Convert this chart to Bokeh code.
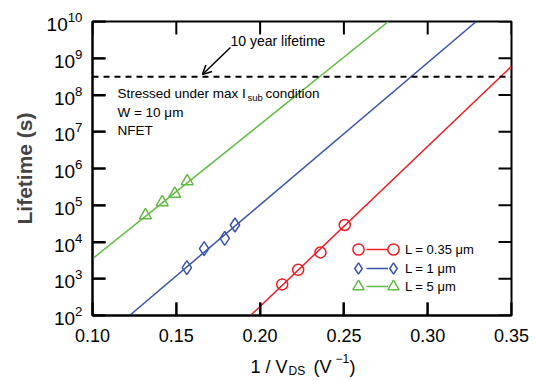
import math
from bokeh.plotting import figure
from bokeh.layouts import column
from bokeh.models import (Range1d, FixedTicker, NumeralTickFormatter, ColumnDataSource,
                          Span, Arrow, OpenHead, Label, Legend, LegendItem)
from bokeh.embed import file_html
from bokeh.resources import INLINE

FONT = "Liberation Sans"

# ---- data ----
x_035 = [0.2132, 0.2227, 0.2360, 0.2505]
t_035 = [7.0e2, 1.75e3, 5.2e3, 2.9e4]
x_1 = [0.1563, 0.1666, 0.1789, 0.1850]
t_1 = [2.0e3, 6.6e3, 1.25e4, 2.9e4]
x_5 = [0.1316, 0.1416, 0.1491, 0.1565]
t_5 = [5.3e4, 1.21e5, 2.05e5, 4.5e5]

fit_x_035 = [0.1943, 0.35]
fit_t_035 = [1e2, 6.0e8]
fit_x_1 = [0.1221, 0.329]
fit_t_1 = [1e2, 1e10]
fit_x_5 = [0.10, 0.2766]
fit_t_5 = [3.5e3, 1e10]

series_labels = ["L = 0.35 μm", "L = 1 μm", "L = 5 μm"]
x_ticks = [0.10, 0.15, 0.20, 0.25, 0.30, 0.35]
y_ticks = [1e2, 1e3, 1e4, 1e5, 1e6, 1e7, 1e8, 1e9, 1e10]
ten_year_s = 3.15e8

RED, BLUE, GREEN = "#ee1c25", "#3a55a8", "#63bb45"

FRAME_W, FRAME_H, TICK_LEN = 419, 294, 13

xr = Range1d(0.10, 0.35)
yr = Range1d(1e2, 1e10)
p = figure(width=529, height=352, y_axis_type="log", x_range=xr, y_range=yr,
           output_backend="svg", toolbar_location=None,
           min_border_left=92, min_border_right=18, min_border_top=21, min_border_bottom=37)
p.xgrid.grid_line_color = None
p.ygrid.grid_line_color = None
p.outline_line_color = "black"
p.outline_line_width = 2
p.background_fill_color = None
p.border_fill_color = "white"

for ax, ticks in ((p.xaxis[0], x_ticks), (p.yaxis[0], y_ticks)):
    ax.ticker = FixedTicker(ticks=ticks)
    ax.axis_line_width = 2
    ax.axis_line_color = "black"
    ax.major_tick_in = TICK_LEN
    ax.major_tick_out = 0
    ax.major_tick_line_width = 2
    ax.major_tick_line_color = "black"
    ax.minor_tick_line_color = None
    ax.major_label_text_font = FONT
    ax.major_label_text_color = "black"

p.xaxis[0].formatter = NumeralTickFormatter(format="0.00")
p.xaxis[0].major_label_text_font_size = "18px"
p.xaxis[0].major_label_standoff = 13
p.yaxis[0].major_label_text_font_size = "19px"
p.yaxis[0].major_label_standoff = 10
p.yaxis[0].axis_label = "Lifetime (s)"
p.yaxis[0].axis_label_text_font = FONT
p.yaxis[0].axis_label_text_font_size = "21px"
p.yaxis[0].axis_label_text_font_style = "bold"
p.yaxis[0].axis_label_standoff = 8

# fitted lines and data
l035 = p.line(fit_x_035, fit_t_035, line_color=RED, line_width=1.5)
l1 = p.line(fit_x_1, fit_t_1, line_color=BLUE, line_width=1.5)
l5 = p.line(fit_x_5, fit_t_5, line_color=GREEN, line_width=1.5)
s035 = p.scatter(x_035, t_035, marker="circle", size=11, fill_color=None,
                 line_color=RED, line_width=1.5)
s1 = p.scatter(x_1, t_1, marker="diamond", size=14, fill_color=None,
               line_color=BLUE, line_width=1.5)
s5 = p.scatter(x_5, t_5, marker="triangle", size=12, fill_color=None,
               line_color=GREEN, line_width=1.5)

# 10 year line and annotation
p.add_layout(Span(location=ten_year_s, dimension="width", line_color="black",
                  line_width=2, line_dash="6 5"))
p.add_layout(Arrow(end=OpenHead(size=9, line_width=1.5, line_color="black"),
                   x_start=0.1823, y_start=1.96e9, x_end=0.1656, y_end=3.6e8,
                   line_width=1.5, line_color="black"))

# inward tick marks on all four sides, TICK_LEN pixels long (headless arrows)
dx = TICK_LEN / FRAME_W * (xr.end - xr.start)
fy = 10 ** (TICK_LEN / FRAME_H * (math.log10(yr.end) - math.log10(yr.start)))
nx, ny = len(x_ticks), len(y_ticks)
tick_sets = [
    dict(x0=x_ticks, y0=[yr.start] * nx, x1=x_ticks, y1=[yr.start * fy] * nx),
    dict(x0=x_ticks, y0=[yr.end] * nx, x1=x_ticks, y1=[yr.end / fy] * nx),
    dict(x0=[xr.start] * ny, y0=y_ticks, x1=[xr.start + dx] * ny, y1=y_ticks),
    dict(x0=[xr.end] * ny, y0=y_ticks, x1=[xr.end - dx] * ny, y1=y_ticks),
]
for d in tick_sets:
    p.add_layout(Arrow(source=ColumnDataSource(d), x_start="x0", y_start="y0",
                       x_end="x1", y_end="y1", end=None,
                       line_color="black", line_width=2))

def lab(fig, text, x, y, size, x_off=0, y_off=0, baseline="middle", units="data"):
    fig.add_layout(Label(x=x, y=y, x_units=units, y_units=units, text=text,
                         x_offset=x_off, y_offset=y_off,
                         text_font=FONT, text_font_size=size, text_color="black",
                         text_baseline=baseline, text_align="left"))

lab(p, "10 year lifetime", 0.1823, 3.04e9, "14px")
x0 = 0.1149
lab(p, "Stressed under max I", x0, 1.1e8, "13.5px")
lab(p, "sub", x0, 1.1e8, "9.5px", x_off=130, y_off=-4)
lab(p, "condition", x0, 1.1e8, "13.5px", x_off=148)
lab(p, "W = 10 μm", x0, 3.34e7, "13.5px")
lab(p, "NFET", x0, 1.08e7, "13.5px")

# legend: one legend per cell so markers sit at both ends of the line
def make_legend(renderer, label, x, bottom, glyph_w, standoff):
    lg = Legend(items=[LegendItem(label=label, renderers=[renderer])],
                location=(x, bottom), glyph_width=glyph_w, glyph_height=28,
                label_height=28, spacing=0, padding=0, margin=0, label_standoff=standoff,
                border_line_color=None, background_fill_alpha=0,
                label_text_font=FONT, label_text_font_size="13px", label_text_color="black")
    p.add_layout(lg, "center")

row_bottoms = [52, 33, 15]
for line_r, mark_r, text, bottom in zip((l035, l1, l5), (s035, s1, s5), series_labels, row_bottoms):
    make_legend(line_r, text, 274, bottom, 22, 17)
    make_legend(mark_r, " ", 252, bottom, 28, 0)
    make_legend(mark_r, " ", 287, bottom, 28, 0)

# x-axis title strip (with subscript and superscript); its frame is aligned with p's
q = figure(width=529, height=29, x_range=Range1d(0, 419), y_range=Range1d(0, 29),
           x_axis_location=None, y_axis_location=None,
           output_backend="svg", toolbar_location=None,
           min_border_left=92, min_border_right=18, min_border_top=0, min_border_bottom=0)
q.grid.visible = False
q.outline_line_color = None
q.border_fill_color = "white"
q.background_fill_color = "white"
lab(q, "1 / V", 158, 15, "18px", baseline="alphabetic", units="screen")
lab(q, "DS", 196, 11, "12px", baseline="alphabetic", units="screen")
lab(q, "(V", 221, 15, "18px", baseline="alphabetic", units="screen")
lab(q, "−1", 243, 23, "12px", baseline="alphabetic", units="screen")
lab(q, ")", 257, 15, "18px", baseline="alphabetic", units="screen")

layout = column(p, q, spacing=0)
open("out.html", "w").write(file_html(layout, INLINE))
